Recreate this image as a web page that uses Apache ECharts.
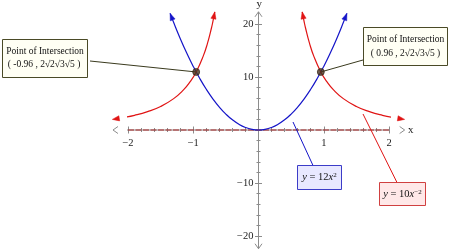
<!DOCTYPE html>
<html><head><meta charset="utf-8">
<script src="https://cdn.jsdelivr.net/npm/echarts@6/dist/echarts.min.js"></script>
<style>html,body{margin:0;padding:0;background:#fff}#c{width:450px;height:251px}</style>
</head><body><div id="c"></div>
<script>
// ---- data ----
const xTickValues = [-2, -1, 0, 1, 2];
const yTickValues = [-20, -10, 0, 10, 20];
const xTickLabels = ['\u22122', '\u22121', '1', '2'];
const xTickLabelValues = [-2, -1, 1, 2];
const yTickLabels = ['\u221220', '\u221210', '10', '20'];
const yTickLabelValues = [-20, -10, 10, 20];
const xAxisEnds = [-2.23, 2.24];
const yAxisEnds = [-22.4, 22.3];
const blueX = [-1.354,-1.3,-1.2,-1.1,-1.0,-0.9,-0.8,-0.7,-0.6,-0.5,-0.4,-0.3,-0.2,-0.1,0,0.1,0.2,0.3,0.4,0.5,0.6,0.7,0.8,0.9,1.0,1.1,1.2,1.3,1.354];
const blueY = [22.0,20.28,17.28,14.52,12.0,9.72,7.68,5.88,4.32,3.0,1.92,1.08,0.48,0.12,0,0.12,0.48,1.08,1.92,3.0,4.32,5.88,7.68,9.72,12.0,14.52,17.28,20.28,22.0];
const redLeftX = [-2.24,-2.1,-1.9,-1.7,-1.5,-1.3,-1.15,-1.05,-0.955,-0.85,-0.78,-0.72,-0.7,-0.67];
const redLeftY = [2.0,2.27,2.77,3.46,4.44,5.92,7.56,9.07,10.96,13.84,16.44,19.29,20.41,22.28];
const redRightX = [0.67,0.7,0.72,0.78,0.85,0.955,1.05,1.15,1.3,1.5,1.7,1.9,2.1,2.24];
const redRightY = [22.28,20.41,19.29,16.44,13.84,10.96,9.07,7.56,5.92,4.44,3.46,2.77,2.27,2.0];
const intersectX = [-0.955, 0.955];
const intersectY = [10.95, 10.95];
const noteTitle = 'Point of Intersection';
const noteLeft = '( -0.96 , 2\u221A2\u221A3\u221A5 )';
const noteRight = '( 0.96 , 2\u221A2\u221A3\u221A5 )';
const blueLabel = '{i|y} = 12{i|x}{s|2}';
const redLabel = '{i|y} = 10{i|x}{s|\u22122}';

// ---- helpers ----
const FONT = "'Liberation Serif','Times New Roman',serif";
const AXIS_C = '#8c8c8c';
const RED = '#e01414', BLUE = '#1414c8';
const zip = (xs, ys) => xs.map((x, i) => [x, ys[i]]);

function arrowRender(color, open) {
  return function (params, api) {
    const tip = api.coord([api.value(0), api.value(1)]);
    const back = api.coord([api.value(2), api.value(3)]);
    let dx = tip[0] - back[0], dy = tip[1] - back[1];
    const L = Math.hypot(dx, dy) || 1; dx /= L; dy /= L;
    const len = open ? 5 : 7, hw = open ? 3.5 : 2.6;
    const bx = tip[0] - dx * len, by = tip[1] - dy * len;
    const p1 = [bx - dy * hw, by + dx * hw], p2 = [bx + dy * hw, by - dx * hw];
    if (open) return {type: 'polyline', shape: {points: [p1, tip, p2]}, style: {stroke: color, fill: null, lineWidth: 1}};
    return {type: 'polygon', shape: {points: [p1, tip, p2]}, style: {fill: color, stroke: color, lineWidth: 0.5}};
  };
}
const endArrows = (xs, ys) => {
  const n = xs.length;
  return [[xs[0], ys[0], xs[1], ys[1]], [xs[n-1], ys[n-1], xs[n-2], ys[n-2]]];
};
function labelRender(params, api) {
  const isX = api.value(2) === 0;
  const p = api.coord([api.value(0), api.value(1)]);
  const txt = isX ? xTickLabels[params.dataIndex] : yTickLabels[params.dataIndex - xTickLabels.length];
  return {
    type: 'text', x: isX ? p[0] : p[0] - 5, y: isX ? p[1] + 13 : p[1],
    style: {text: txt, fontFamily: FONT, fontSize: 10.5, fill: '#222',
      align: isX ? 'center' : 'right', verticalAlign: 'middle',
      textAlign: isX ? 'center' : 'right', textVerticalAlign: 'middle'}
  };
}

function xAx(pos) {
  const main = pos === 'bottom';
  return {
    type: 'value', min: xTickValues[0], max: xTickValues[xTickValues.length-1], interval: 1, position: pos,
    axisLine: {show: false, onZero: true, onZeroAxisIndex: 0, lineStyle: {color: AXIS_C, width: 1}},
    axisTick: {show: true, length: 3.5, lineStyle: {color: AXIS_C}},
    minorTick: {show: true, splitNumber: 5, length: 2, lineStyle: {color: AXIS_C}},
    axisLabel: {show: false},
    splitLine: {show: false}, minorSplitLine: {show: false},
    name: main ? 'x' : '', nameLocation: 'end', nameGap: 19,
    nameTextStyle: {fontFamily: FONT, fontSize: 11, color: '#222'}
  };
}
function yAx(pos) {
  const main = pos === 'left';
  return {
    type: 'value', min: yTickValues[0], max: yTickValues[yTickValues.length-1], interval: 10, position: pos,
    axisLine: {show: false, onZero: true, onZeroAxisIndex: 0, lineStyle: {color: AXIS_C, width: 1}},
    axisTick: {show: true, length: 3.5, lineStyle: {color: AXIS_C}},
    minorTick: {show: true, splitNumber: 5, length: 2, lineStyle: {color: AXIS_C}},
    axisLabel: {show: false},
    splitLine: {show: false}, minorSplitLine: {show: false},
    name: main ? 'y' : '', nameLocation: 'end', nameGap: 14,
    nameTextStyle: {fontFamily: FONT, fontSize: 11, color: '#222', align: 'left', padding: [0,0,0,-2]}
  };
}

const chart = echarts.init(document.getElementById('c'), null, {renderer: 'canvas'});
chart.setOption({
  animation: false,
  backgroundColor: '#fff',
  grid: {left: 128, top: 24, width: 261, height: 212, containLabel: false, outerBoundsMode: 'none'},
  xAxis: [xAx('bottom'), xAx('top')],
  yAxis: [yAx('left'), yAx('right')],
  series: [
    {type: 'line', data: [[xAxisEnds[0], 0], [xAxisEnds[1], 0]], symbol: 'none', clip: false, silent: true,
     lineStyle: {color: AXIS_C, width: 1}, z: 1},
    {type: 'line', data: [[0, yAxisEnds[0]], [0, yAxisEnds[1]]], symbol: 'none', clip: false, silent: true,
     lineStyle: {color: AXIS_C, width: 1}, z: 1},
    {type: 'line', data: [[xAxisEnds[0], 0], [xAxisEnds[1], 0]], symbol: 'none', clip: false, silent: true,
     lineStyle: {color: '#a82424', width: 1, type: [6, 1.5]}, z: 4},
    {type: 'custom', renderItem: arrowRender(AXIS_C, true), clip: false, silent: true, z: 3,
     data: [[xAxisEnds[1], 0, xTickValues[4], 0], [xAxisEnds[0], 0, xTickValues[0], 0],
            [0, yAxisEnds[1], 0, yTickValues[4]], [0, yAxisEnds[0], 0, yTickValues[0]]]},
    {type: 'custom', renderItem: labelRender, clip: false, silent: true, z: 3,
     data: xTickLabelValues.map(v => [v, 0, 0]).concat(yTickLabelValues.map(v => [0, v, 1]))},
    {type: 'line', name: 'blue', data: zip(blueX, blueY), smooth: true, symbol: 'none', clip: false,
     lineStyle: {color: BLUE, width: 1.2}, z: 5},
    {type: 'line', name: 'redL', data: zip(redLeftX, redLeftY), smooth: true, symbol: 'none', clip: false,
     lineStyle: {color: RED, width: 1.2}, z: 5},
    {type: 'line', name: 'redR', data: zip(redRightX, redRightY), smooth: true, symbol: 'none', clip: false,
     lineStyle: {color: RED, width: 1.2}, z: 5},
    {type: 'custom', renderItem: arrowRender(BLUE, false), clip: false, silent: true, z: 6,
     data: endArrows(blueX, blueY)},
    {type: 'custom', renderItem: arrowRender(RED, false), clip: false, silent: true, z: 6,
     data: endArrows(redLeftX, redLeftY).concat(endArrows(redRightX, redRightY))},
    {type: 'scatter', data: zip(intersectX, intersectY), symbolSize: 7, z: 8,
     itemStyle: {color: '#4a3420', borderColor: '#2a1c10', borderWidth: 0.8}}
  ]
});

const pL = chart.convertToPixel({gridIndex: 0}, [intersectX[0], intersectY[0]]);
const pR = chart.convertToPixel({gridIndex: 0}, [intersectX[1], intersectY[1]]);
const textStyle = (t, x, y, extra) => Object.assign({
  text: t, x: x, y: y, fontFamily: FONT, fontSize: 9.5, fill: '#111',
  align: 'center', verticalAlign: 'middle', textAlign: 'center', textVerticalAlign: 'middle'
}, extra || {});
const richStyle = {
  i: {fontStyle: 'italic', fontFamily: FONT, fontSize: 10.5, fill: '#111'},
  s: {fontFamily: FONT, fontSize: 7, lineHeight: 7, verticalAlign: 'top', fill: '#111'}
};
chart.setOption({
  graphic: [
    {type: 'line', shape: {x1: 90, y1: 61, x2: pL[0], y2: pL[1]}, style: {stroke: '#3a3a1e', lineWidth: 1}, z: 7},
    {type: 'line', shape: {x1: 363, y1: 60, x2: pR[0], y2: pR[1]}, style: {stroke: '#3a3a1e', lineWidth: 1}, z: 7},
    {type: 'line', shape: {x1: 293, y1: 122, x2: 313, y2: 165.5}, style: {stroke: BLUE, lineWidth: 1}, z: 7},
    {type: 'line', shape: {x1: 363, y1: 114, x2: 397, y2: 182.5}, style: {stroke: RED, lineWidth: 1}, z: 7},
    {type: 'rect', shape: {x: 2.5, y: 39.5, width: 85, height: 38}, style: {fill: '#fffff4', stroke: '#4a4a26', lineWidth: 1}, z: 9},
    {type: 'text', style: textStyle(noteTitle, 45, 51), z: 10},
    {type: 'text', style: textStyle(noteLeft, 44, 64), z: 10},
    {type: 'rect', shape: {x: 363.5, y: 27.5, width: 84, height: 38}, style: {fill: '#fffff4', stroke: '#4a4a26', lineWidth: 1}, z: 9},
    {type: 'text', style: textStyle(noteTitle, 405.5, 39), z: 10},
    {type: 'text', style: textStyle(noteRight, 405.5, 53), z: 10},
    {type: 'rect', shape: {x: 297.5, y: 165.5, width: 44, height: 24}, style: {fill: '#e8e8ff', stroke: '#3c3cc8', lineWidth: 1}, z: 9},
    {type: 'text', style: textStyle(blueLabel, 319.5, 177.5, {fontSize: 10.5, rich: richStyle}), z: 10},
    {type: 'rect', shape: {x: 379.5, y: 182.5, width: 46, height: 23}, style: {fill: '#ffe8e8', stroke: '#d04040', lineWidth: 1}, z: 9},
    {type: 'text', style: textStyle(redLabel, 402.5, 194, {fontSize: 10.5, rich: richStyle}), z: 10}
  ]
});
</script></body></html>
